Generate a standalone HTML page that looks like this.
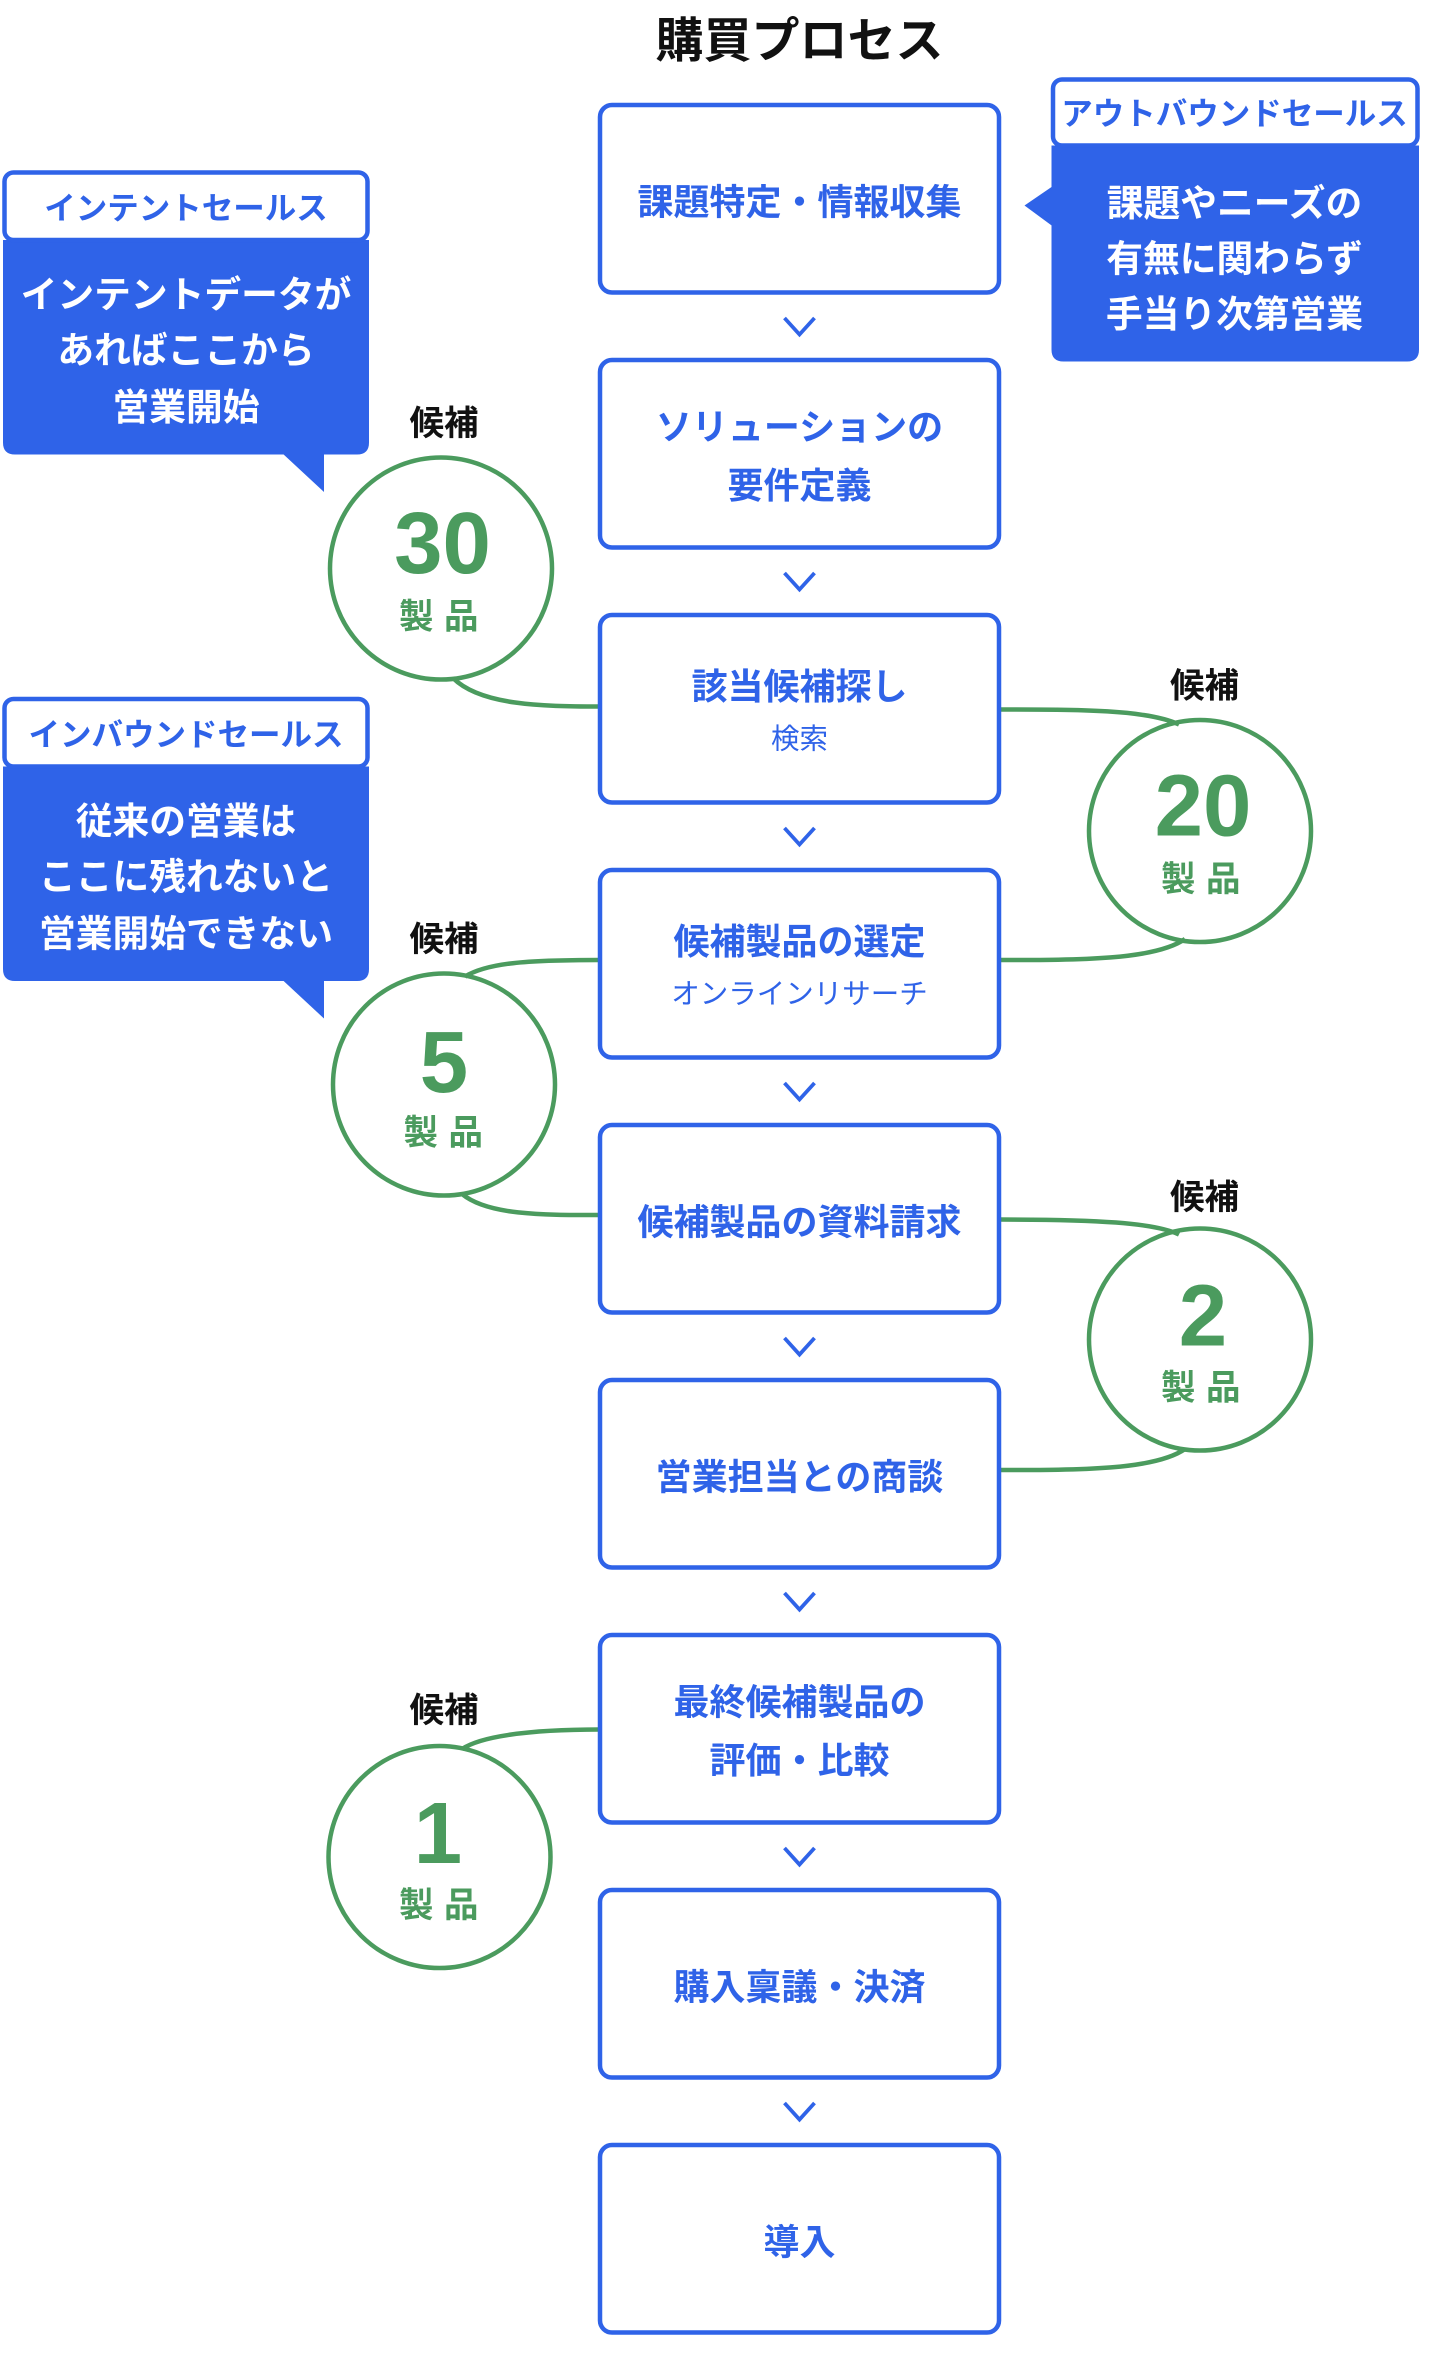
<!DOCTYPE html>
<html><head><meta charset="utf-8"><style>
html,body{margin:0;padding:0;background:#fff;}
svg{display:block;}
text{font-family:"Liberation Sans","Noto Sans CJK JP",sans-serif;}
</style></head><body>
<svg width="1440" height="2360" viewBox="0 0 960 1573.3" preserveAspectRatio="none" xmlns="http://www.w3.org/2000/svg">
<rect width="960" height="1573.3" fill="#fff"/>
<text x="533" y="38" text-anchor="middle" font-size="32" font-weight="bold" fill="#111">購買プロセス</text>

<g fill="none" stroke="#4b9b5e" stroke-width="3">
<path d="M302,452 C320,470 360,471 400,471"/>
<path d="M666,473 C720,473 765,473 786,483"/>
<path d="M666,640 C720,640 770,640 790,626"/>
<path d="M400,640 C350,640 325,642 310,651"/>
<path d="M308,796 C325,810 360,810 400,810"/>
<path d="M666,813 C730,813 770,815 786,823"/>
<path d="M790,966 C770,980 720,980 666,980"/>
<path d="M400,1153 C350,1153 320,1158 308,1166"/>
<circle cx="294" cy="379" r="74"/>
<circle cx="800" cy="554" r="74"/>
<circle cx="296" cy="723" r="74"/>
<circle cx="800" cy="893" r="74"/>
<circle cx="293" cy="1238" r="74"/>
</g>

<g font-size="23" font-weight="bold" fill="#111" text-anchor="middle">
<text x="296" y="290">候補</text>
<text x="803" y="465">候補</text>
<text x="296" y="634">候補</text>
<text x="803" y="806">候補</text>
<text x="296" y="1148">候補</text>
</g>
<g fill="#4b9b5e" font-weight="bold" text-anchor="middle">
<text x="295" y="382" font-size="58">30</text>
<text x="296" y="419" font-size="23" letter-spacing="7">製品</text>
<text x="802" y="557" font-size="58">20</text>
<text x="804" y="594" font-size="23" letter-spacing="7">製品</text>
<text x="296" y="728" font-size="58">5</text>
<text x="299" y="763" font-size="23" letter-spacing="7">製品</text>
<text x="802" y="897" font-size="58">2</text>
<text x="804" y="933" font-size="23" letter-spacing="7">製品</text>
<text x="292" y="1242" font-size="58">1</text>
<text x="296" y="1278" font-size="23" letter-spacing="7">製品</text>
</g>

<g fill="#fff" stroke="#2f63e8" stroke-width="3">
<rect x="400" y="70" width="266" height="125" rx="8"/>
<rect x="400" y="240" width="266" height="125" rx="8"/>
<rect x="400" y="410" width="266" height="125" rx="8"/>
<rect x="400" y="580" width="266" height="125" rx="8"/>
<rect x="400" y="750" width="266" height="125" rx="8"/>
<rect x="400" y="920" width="266" height="125" rx="8"/>
<rect x="400" y="1090" width="266" height="125" rx="8"/>
<rect x="400" y="1260" width="266" height="125" rx="8"/>
<rect x="400" y="1430" width="266" height="125" rx="8"/>
</g>
<g fill="none" stroke="#2f63e8" stroke-width="2.5">
<path d="M523,212 L533,223 L543,212"/>
<path d="M523,382 L533,393 L543,382"/>
<path d="M523,552 L533,563 L543,552"/>
<path d="M523,722 L533,733 L543,722"/>
<path d="M523,892 L533,903 L543,892"/>
<path d="M523,1062 L533,1073 L543,1062"/>
<path d="M523,1232 L533,1243 L543,1232"/>
<path d="M523,1402 L533,1413 L543,1402"/>
</g>
<g fill="#2f63e8" text-anchor="middle" font-size="24" font-weight="bold">
<text x="533" y="143">課題特定・情報収集</text>
<text x="533" y="293">ソリューションの</text>
<text x="533" y="332">要件定義</text>
<text x="533" y="466">該当候補探し</text>
<text x="533" y="636">候補製品の選定</text>
<text x="533" y="823">候補製品の資料請求</text>
<text x="533" y="993">営業担当との商談</text>
<text x="533" y="1143">最終候補製品の</text>
<text x="533" y="1182">評価・比較</text>
<text x="533" y="1333">購入稟議・決済</text>
<text x="533" y="1503">導入</text>
</g>
<g fill="#2f63e8" text-anchor="middle" font-size="19">
<text x="533" y="499">検索</text>
<text x="533" y="669">オンラインリサーチ</text>
</g>

<!-- outbound -->
<path d="M701,97 H946 V233 Q946,241 938,241 H709 Q701,241 701,233 Z" fill="#2f63e8"/>
<polygon points="702,124 683,137 702,151" fill="#2f63e8"/>
<rect x="702" y="53" width="243" height="44" rx="6" fill="#fff" stroke="#2f63e8" stroke-width="3"/>
<text x="823" y="83" text-anchor="middle" font-size="21" font-weight="bold" fill="#2f63e8">アウトバウンドセールス</text>
<g fill="#fff" text-anchor="middle" font-size="24.5" font-weight="bold">
<text x="823" y="144">課題やニーズの</text>
<text x="823" y="181">有無に関わらず</text>
<text x="823" y="218">手当り次第営業</text>
</g>

<!-- intent -->
<path d="M2,160 H246 V295 Q246,303 238,303 H10 Q2,303 2,295 Z" fill="#2f63e8"/>
<polygon points="188,302 216,302 216,328" fill="#2f63e8"/>
<rect x="3" y="115" width="242" height="45" rx="6" fill="#fff" stroke="#2f63e8" stroke-width="3"/>
<text x="124" y="146" text-anchor="middle" font-size="21" font-weight="bold" fill="#2f63e8">インテントセールス</text>
<g fill="#fff" text-anchor="middle" font-size="24.5" font-weight="bold">
<text x="124" y="205">インテントデータが</text>
<text x="124" y="242">あればここから</text>
<text x="124" y="280">営業開始</text>
</g>

<!-- inbound -->
<path d="M2,511 H246 V646 Q246,654 238,654 H10 Q2,654 2,646 Z" fill="#2f63e8"/>
<polygon points="188,653 216,653 216,679" fill="#2f63e8"/>
<rect x="3" y="466" width="242" height="45" rx="6" fill="#fff" stroke="#2f63e8" stroke-width="3"/>
<text x="124" y="497" text-anchor="middle" font-size="21" font-weight="bold" fill="#2f63e8">インバウンドセールス</text>
<g fill="#fff" text-anchor="middle" font-size="24.5" font-weight="bold">
<text x="124" y="556">従来の営業は</text>
<text x="124" y="593">ここに残れないと</text>
<text x="124" y="631">営業開始できない</text>
</g>
</svg>
</body></html>
